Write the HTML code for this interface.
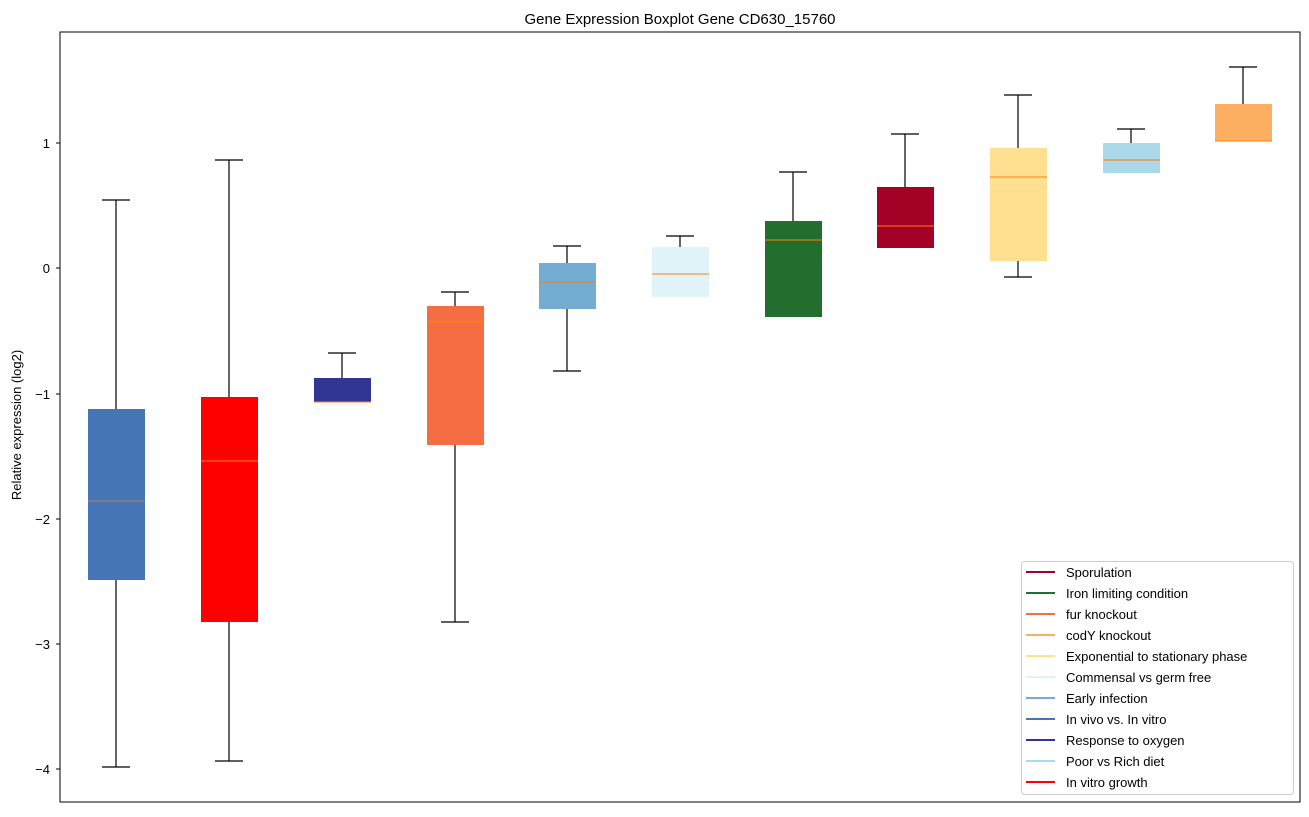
<!DOCTYPE html>
<html><head><style>body{margin:0;background:#fff}</style></head><body>
<svg width="1309" height="812" xmlns="http://www.w3.org/2000/svg" font-family="Liberation Sans, DejaVu Sans, sans-serif">
<rect width="1309" height="812" fill="#fff"/>
<text x="680" y="24" font-size="15" text-anchor="middle">Gene Expression Boxplot Gene CD630_15760</text>
<text transform="translate(21,425) rotate(-90)" font-size="13" text-anchor="middle">Relative expression (log2)</text>
<g font-size="13" text-anchor="end">
<text x="50" y="148">1</text><line x1="56" y1="143" x2="60" y2="143" stroke="#000"/>
<text x="50" y="273">0</text><line x1="56" y1="268" x2="60" y2="268" stroke="#000"/>
<text x="50" y="399">−1</text><line x1="56" y1="394" x2="60" y2="394" stroke="#000"/>
<text x="50" y="524">−2</text><line x1="56" y1="519" x2="60" y2="519" stroke="#000"/>
<text x="50" y="649">−3</text><line x1="56" y1="644" x2="60" y2="644" stroke="#000"/>
<text x="50" y="774">−4</text><line x1="56" y1="769" x2="60" y2="769" stroke="#000"/>
</g>
<g stroke="#000" stroke-width="1.2">
<line x1="116" y1="200" x2="116" y2="409"/><line x1="116" y1="580" x2="116" y2="767"/><line x1="102" y1="200" x2="130" y2="200"/><line x1="102" y1="767" x2="130" y2="767"/>
<line x1="229" y1="160" x2="229" y2="397"/><line x1="229" y1="622" x2="229" y2="761"/><line x1="215" y1="160" x2="243" y2="160"/><line x1="215" y1="761" x2="243" y2="761"/>
<line x1="342" y1="353" x2="342" y2="378"/><line x1="328" y1="353" x2="356" y2="353"/>
<line x1="455" y1="292" x2="455" y2="306"/><line x1="455" y1="445" x2="455" y2="622"/><line x1="441" y1="292" x2="469" y2="292"/><line x1="441" y1="622" x2="469" y2="622"/>
<line x1="567" y1="246" x2="567" y2="263"/><line x1="567" y1="309" x2="567" y2="371"/><line x1="553" y1="246" x2="581" y2="246"/><line x1="553" y1="371" x2="581" y2="371"/>
<line x1="680" y1="236" x2="680" y2="247"/><line x1="666" y1="236" x2="694" y2="236"/>
<line x1="793" y1="172" x2="793" y2="221"/><line x1="779" y1="172" x2="807" y2="172"/>
<line x1="905" y1="134" x2="905" y2="187"/><line x1="891" y1="134" x2="919" y2="134"/>
<line x1="1018" y1="95" x2="1018" y2="148"/><line x1="1018" y1="261" x2="1018" y2="277"/><line x1="1004" y1="95" x2="1032" y2="95"/><line x1="1004" y1="277" x2="1032" y2="277"/>
<line x1="1131" y1="129" x2="1131" y2="143"/><line x1="1117" y1="129" x2="1145" y2="129"/>
<line x1="1243" y1="67" x2="1243" y2="104"/><line x1="1229" y1="67" x2="1257" y2="67"/>
</g>
<g>
<rect x="88" y="409" width="57" height="171" fill="#4575b4"/>
<rect x="201" y="397" width="57" height="225" fill="#ff0000"/>
<rect x="314" y="378" width="57" height="24" fill="#313695"/>
<rect x="427" y="306" width="57" height="139" fill="#f46d43"/>
<rect x="539" y="263" width="57" height="46" fill="#74add1"/>
<rect x="652" y="247" width="57" height="50" fill="#e0f3f8"/>
<rect x="765" y="221" width="57" height="96" fill="#236e2e"/>
<rect x="877" y="187" width="57" height="61" fill="#a50026"/>
<rect x="990" y="148" width="57" height="113" fill="#fee090"/>
<rect x="1103" y="143" width="57" height="30" fill="#abd9e9"/>
<rect x="1215" y="104" width="57" height="37" fill="#fdae61"/>
</g>
<g stroke="#ff7f0e" stroke-width="1">
<line x1="88" y1="501" x2="145" y2="501" stroke="#b08060"/>
<line x1="201" y1="461" x2="258" y2="461"/>
<line x1="314" y1="402" x2="371" y2="402"/>
<line x1="427" y1="322" x2="484" y2="322"/>
<line x1="539" y1="282" x2="596" y2="282"/>
<line x1="652" y1="274" x2="709" y2="274"/>
<line x1="765" y1="240" x2="822" y2="240"/>
<line x1="877" y1="226" x2="934" y2="226"/>
<line x1="990" y1="177" x2="1047" y2="177"/>
<line x1="1103" y1="160" x2="1160" y2="160"/>
<line x1="1215" y1="141" x2="1272" y2="141"/>
</g>
<rect x="60" y="32" width="1240" height="770" fill="none" stroke="#000" stroke-width="1"/>
<rect x="1021.5" y="561.5" width="272" height="233" rx="3" fill="#fff" stroke="#ccc"/>
<g font-size="13" stroke-width="2">
<line x1="1026" y1="572" x2="1055" y2="572" stroke="#a50026"/><text x="1066" y="577">Sporulation</text>
<line x1="1026" y1="593" x2="1055" y2="593" stroke="#236e2e"/><text x="1066" y="598">Iron limiting condition</text>
<line x1="1026" y1="614" x2="1055" y2="614" stroke="#f46d43"/><text x="1066" y="619">fur knockout</text>
<line x1="1026" y1="635" x2="1055" y2="635" stroke="#fdae61"/><text x="1066" y="640">codY knockout</text>
<line x1="1026" y1="656" x2="1055" y2="656" stroke="#fee090"/><text x="1066" y="661">Exponential to stationary phase</text>
<line x1="1026" y1="677" x2="1055" y2="677" stroke="#e0f3f8"/><text x="1066" y="682">Commensal vs germ free</text>
<line x1="1026" y1="698" x2="1055" y2="698" stroke="#74add1"/><text x="1066" y="703">Early infection</text>
<line x1="1026" y1="719" x2="1055" y2="719" stroke="#4575b4"/><text x="1066" y="724">In vivo vs. In vitro</text>
<line x1="1026" y1="740" x2="1055" y2="740" stroke="#313695"/><text x="1066" y="745">Response to oxygen</text>
<line x1="1026" y1="761" x2="1055" y2="761" stroke="#abd9e9"/><text x="1066" y="766">Poor vs Rich diet</text>
<line x1="1026" y1="782" x2="1055" y2="782" stroke="#ff0000"/><text x="1066" y="787">In vitro growth</text>
</g>
</svg>
</body></html>
